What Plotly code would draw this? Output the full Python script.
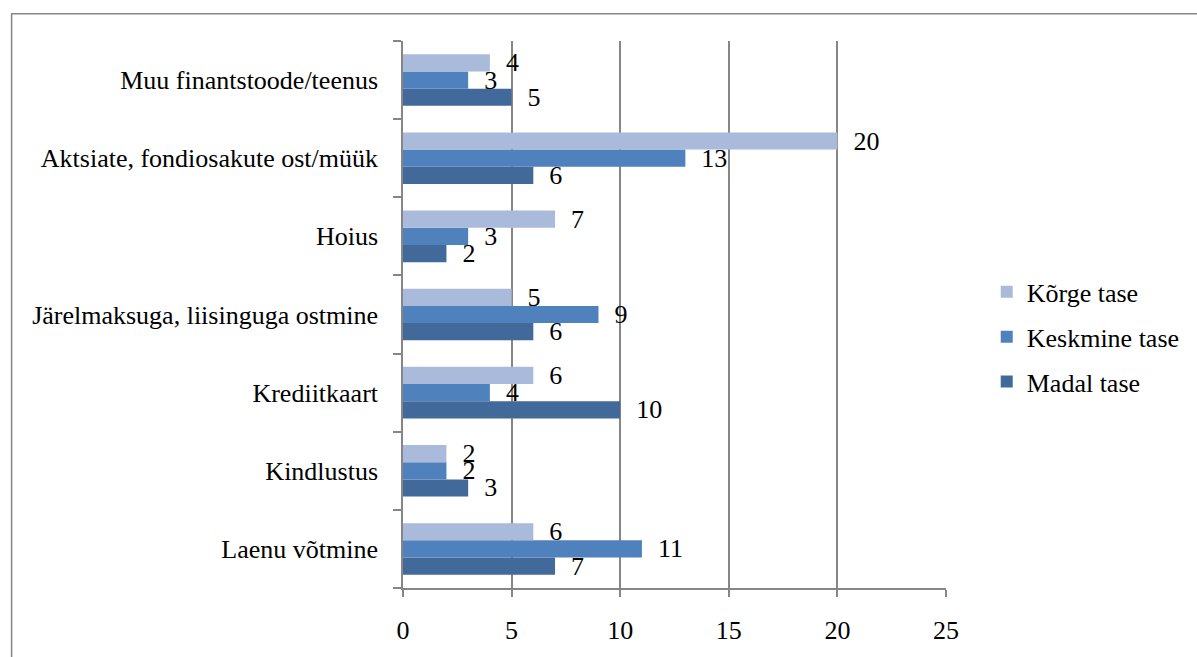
import plotly.graph_objects as go

# Categories listed bottom to top, as they appear on the category axis
categories = [
    "Laenu võtmine",
    "Kindlustus",
    "Krediitkaart",
    "Järelmaksuga, liisinguga ostmine",
    "Hoius",
    "Aktsiate, fondiosakute ost/müük",
    "Muu finantstoode/teenus",
]

korge_tase = [6, 2, 6, 5, 7, 20, 4]
keskmine_tase = [11, 2, 4, 9, 3, 13, 3]
madal_tase = [7, 3, 10, 6, 2, 6, 5]

x_ticks = [0, 5, 10, 15, 20, 25]

FONT = "Liberation Serif"
GRID = "#868686"
TXT = dict(family=FONT, size=26, color="black")

# (name, values, colour, legend rank) – first trace is drawn lowest in each group
series = [
    ("Madal tase", madal_tase, "#416A9A", 3),
    ("Keskmine tase", keskmine_tase, "#4F81BD", 2),
    ("Kõrge tase", korge_tase, "#AABADA", 1),
]

ypos = list(range(len(categories)))

fig = go.Figure()
for name, vals, color, rank in series:
    fig.add_trace(go.Bar(
        name=name,
        y=ypos,
        x=vals,
        orientation="h",
        marker=dict(color=color, line=dict(width=0)),
        text=["\u00a0\u00a0" + str(v) for v in vals],
        textposition="outside",
        textfont=TXT,
        outsidetextfont=TXT,
        constraintext="none",
        cliponaxis=False,
        legendgroup=name,
        legendrank=rank,
    ))

fig.update_layout(
    width=1197,
    height=657,
    barmode="group",
    bargap=0.34,
    bargroupgap=0,
    paper_bgcolor="white",
    plot_bgcolor="white",
    margin=dict(l=403, r=246, t=41, b=56),
    font=TXT,
    showlegend=True,
    legend=dict(
        x=1.075, xanchor="left",
        y=0.459, yanchor="middle",
        traceorder="grouped",
        tracegroupgap=8,
        font=TXT,
        bgcolor="rgba(0,0,0,0)",
        itemwidth=30,
    ),
    xaxis=dict(
        range=[0, 25],
        tickvals=x_ticks,
        ticktext=[str(t) for t in x_ticks],
        tickfont=TXT,
        showgrid=True,
        gridcolor=GRID,
        gridwidth=1.5,
        zeroline=False,
        showline=True,
        linecolor=GRID,
        linewidth=1.5,
        ticks="outside",
        ticklen=7,
        tickcolor=GRID,
        tickwidth=1.5,
        ticklabelstandoff=11,
        fixedrange=True,
    ),
    yaxis=dict(
        range=[-0.5, 6.5],
        tickvals=ypos,
        ticktext=categories,
        tickfont=TXT,
        ticks="",
        showgrid=False,
        zeroline=False,
        showline=True,
        linecolor=GRID,
        linewidth=1.5,
        ticklabelstandoff=18,
        minor=dict(
            tickvals=[v - 0.5 for v in ypos] + [len(ypos) - 0.5],
            ticks="outside",
            ticklen=8,
            tickcolor=GRID,
            tickwidth=1.5,
            showgrid=False,
        ),
        fixedrange=True,
    ),
    shapes=[
        dict(
            type="rect", xref="paper", yref="paper",
            x0=-0.7208, x1=1.6, y0=-0.3, y1=1.05,
            line=dict(color=GRID, width=1.5),
            fillcolor="rgba(0,0,0,0)",
            layer="below",
        )
    ],
)

fig.write_html("out.html")
